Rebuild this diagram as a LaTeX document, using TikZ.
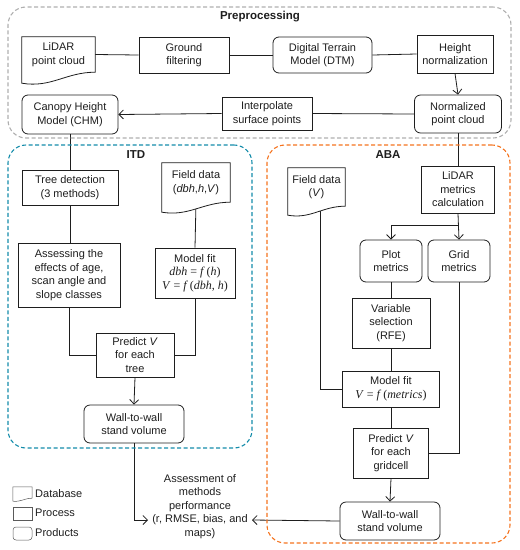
\documentclass[tikz,border=0pt]{standalone}
\usepackage{fontspec}
\setmainfont{Liberation Sans}
\newfontfamily\mserif{Liberation Serif}
\usetikzlibrary{arrows.meta,calc,backgrounds}
\definecolor{itdc}{RGB}{20,140,170}
\definecolor{abac}{RGB}{245,115,30}
\definecolor{prec}{RGB}{175,175,175}
\definecolor{ink}{RGB}{30,30,30}
\definecolor{legc}{RGB}{90,90,90}
\newcommand\eqn[1]{{\mserif\fontsize{12}{13.5}\selectfont #1}}
\tikzset{
  base/.style={inner sep=1pt,align=center,font=\fontsize{11}{13.5}\selectfont,text=ink},
  proc/.style={base,draw=ink,line width=0.8pt,rectangle},
  prod/.style={base,draw=ink,line width=0.8pt,rectangle,rounded corners=6pt},
  dbtext/.style={base},
  dbshape/.style={draw=ink,line width=0.8pt,fill=white},
  conn/.style={draw=ink,line width=0.8pt},
  arr/.style={conn,-{Straight Barb[length=4.5pt,width=9pt,line width=0.8pt]}},
  grp/.style={draw,dashed,dash pattern=on 4pt off 2.5pt,line width=1.1pt,rounded corners=18pt,inner sep=0pt},
  grplabel/.style={font=\fontsize{11.5}{13}\selectfont\bfseries,text=ink},
  legtext/.style={base,anchor=west},
  legicon/.style={draw=legc,line width=0.5pt,inner sep=0pt,minimum width=19pt,minimum height=13pt}
}
\newcommand\docdraw[2]{%
  \path[dbshape] (#1.south east) -- (#1.north east) -- (#1.north west) -- ($(#1.south west)+(0,#2)$)
   .. controls ($(#1.south east)!0.6!(#1.south west)+(0,#2*1.45)$) and ($(#1.south east)!0.4!(#1.south west)$) .. (#1.south east) -- cycle;}
\begin{document}
\begin{tikzpicture}[x=1pt,y=-1pt]
\useasboundingbox (0,0) rectangle (520,550);

% groups
\node[grp,draw=prec,minimum width=503pt,minimum height=131pt] (gpre) at (259.5,72.5) {};
\node[grp,draw=itdc,minimum width=244pt,minimum height=303pt] (gitd) at (130,296.5) {};
\node[grp,draw=abac,minimum width=243pt,minimum height=398pt] (gaba) at (388.5,344) {};
\node[grplabel] (lpre) at (260,17) {Preprocessing};
\node[grplabel] (litd) at (136,155) {ITD};
\node[grplabel] (laba) at (388,155) {ABA};

% preprocessing
\node[dbtext,minimum width=73pt,minimum height=35pt] (lidar) at (58.5,54.5) {LiDAR\\point cloud};
\node[proc,minimum width=90pt,minimum height=36pt] (ground) at (184,55) {Ground\\filtering};
\node[prod,minimum width=99pt,minimum height=36pt] (dtm) at (322.5,55) {Digital Terrain\\Model (DTM)};
\node[proc,minimum width=76pt,minimum height=38pt] (hnorm) at (455,54) {Height\\normalization};
\node[prod,minimum width=96pt,minimum height=39pt] (chm) at (70,114.5) {Canopy Height\\Model (CHM)};
\node[proc,minimum width=90pt,minimum height=33pt] (interp) at (267,113.5) {Interpolate\\surface points};
\node[prod,minimum width=87pt,minimum height=38pt] (npc) at (458,114) {Normalized\\point cloud};

% ITD
\node[proc,minimum width=96pt,minimum height=35pt] (treedet) at (70,187.5) {Tree detection\\(3 methods)};
\node[dbtext,minimum width=68pt,minimum height=39pt] (fieldI) at (196,182.5) {Field data\\(\textit{dbh},\textit{h},\textit{V})};
\node[proc,minimum width=102pt,minimum height=64pt] (assessI) at (69,275) {Assessing the\\effects of age,\\scan angle and\\slope classes};
\node[proc,minimum width=80pt,minimum height=50pt] (mfitI) at (195,273) {Model fit\\\eqn{\textit{dbh} = \textit{f}\,(\textit{h})}\\\eqn{\textit{V} = \textit{f}\,(\textit{dbh}, \textit{h})}};
\node[proc,minimum width=78pt,minimum height=44pt] (predT) at (135,355) {Predict \textit{V}\\for each\\tree};
\node[prod,minimum width=100pt,minimum height=38pt] (wT) at (134,424) {Wall-to-wall\\stand volume};

% ABA
\node[dbtext,minimum width=57pt,minimum height=38pt] (fieldA) at (316.5,187) {Field data\\(\textit{V})};
\node[proc,minimum width=73pt,minimum height=47pt] (lmc) at (458,189.5) {LiDAR\\metrics\\calculation};
\node[prod,minimum width=62pt,minimum height=42pt] (plotm) at (391,261) {Plot\\metrics};
\node[prod,minimum width=62pt,minimum height=42pt] (gridm) at (459,261) {Grid\\metrics};
\node[proc,minimum width=78pt,minimum height=50pt] (varsel) at (391,323) {Variable\\selection\\(RFE)};
\node[proc,minimum width=97pt,minimum height=36pt] (mfitA) at (391,389) {Model fit\\\eqn{\textit{V} = \textit{f}\,(\textit{metrics})}};
\node[proc,minimum width=75pt,minimum height=50pt] (predG) at (391,453) {Predict \textit{V}\\for each\\gridcell};
\node[prod,minimum width=100pt,minimum height=38pt] (wA) at (390,521) {Wall-to-wall\\stand volume};

% assessment
\node[base,inner sep=0pt] (assess) at (200,506.5) {Assessment of\\methods\\performance\\(r, RMSE, bias, and\\maps)};
\coordinate (aL) at (148,520);
\coordinate (aR) at (252,520);
\coordinate (br) at (458,225);

% legend
\node[inner sep=0pt,minimum width=19pt,minimum height=11pt] (legdb) at (22.5,492.5) {};
\node[legicon] (legpr) at (22.5,513.5) {};
\node[legicon,rounded corners=3pt] (legpd) at (22.5,533.5) {};
\node[legtext] (tdb) at (34,494) {Database};
\node[legtext] (tpr) at (34,513) {Process};
\node[legtext] (tpd) at (34,533) {Products};

\begin{scope}[on background layer]
  % connectors
  \draw[conn] (lidar.east) -- (ground.west);
  \draw[conn] (ground.east) -- (dtm.west);
  \draw[conn] (dtm.east) -- (hnorm.west);
  \draw[arr] (hnorm.south) -- (npc.north);
  \draw[conn] (npc.west) -- (interp.east);
  \draw[arr] (interp.west) -- (chm.east);
  \draw[conn] (chm.south) -- (treedet.north);
  \draw[conn] (treedet.south) -- (treedet.south |- assessI.north);
  \draw[conn] (assessI.south) |- (predT.west);
  \draw[conn] (fieldI.south) -- (mfitI.north);
  \draw[conn] (mfitI.south) |- (predT.east);
  \draw[arr] (predT.south) -- (wT.north);
  \draw[arr] (wT.south) |- (aL);
  \draw[conn] (npc.south) -- (lmc.north);
  \draw[arr] (lmc.south) -- (gridm.north);
  \draw[arr] (br) -| (plotm.north);
  \draw[conn] (plotm.south) -- (varsel.north);
  \draw[conn] (varsel.south) -- (mfitA.north);
  \draw[conn] ($(fieldA.south)+(4,0)$) |- (mfitA.west);
  \draw[conn] (mfitA.south) -- (predG.north);
  \draw[conn] (gridm.south) |- (predG.east);
  \draw[arr] (predG.south) -- (wA.north);
  \draw[arr] (wA.west) -- (aR);
  % database shapes
  \docdraw{lidar}{11}
  \docdraw{fieldI}{10}
  \docdraw{fieldA}{9}
  \path[draw=legc,line width=0.5pt,fill=white] (legdb.south east) -- (legdb.north east) -- (legdb.north west) -- ($(legdb.south west)+(0,3)$)
   .. controls ($(legdb.south east)!0.6!(legdb.south west)+(0,4)$) and ($(legdb.south east)!0.4!(legdb.south west)$) .. (legdb.south east) -- cycle;
\end{scope}
\end{tikzpicture}
\end{document}
